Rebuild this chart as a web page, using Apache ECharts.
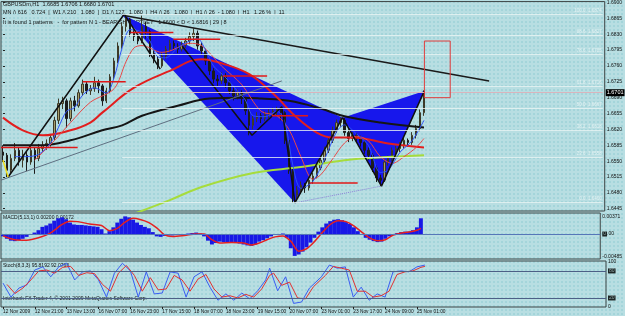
<!DOCTYPE html>
<html>
<head>
<meta charset="utf-8">
<script src="https://cdn.jsdelivr.net/npm/echarts@6.0.0/dist/echarts.min.js"></script>
<style>
  html, body { margin: 0; padding: 0; }
  body {
    background-color: #b8dee2;
    background-image: radial-gradient(circle, #8ccad1 0.6px, transparent 0.8px);
    background-size: 4px 4px;
  }
  #chart { width: 625px; height: 316px; }
</style>
</head>
<body>
<div id="chart"></div>
<script>
// 2-hour slots along the time axis (bars end at slot 106, the rest is empty space)
var nSlots = 152;
var slots = [];
for (var i = 0; i < nSlots; i++) slots.push(i);

var timeLabels = ['12 Nov 2009', '12 Nov 21:00', '13 Nov 13:00', '16 Nov 07:00', '16 Nov 23:00',
  '17 Nov 15:00', '18 Nov 07:00', '18 Nov 23:00', '19 Nov 15:00', '20 Nov 07:00',
  '23 Nov 01:00', '23 Nov 17:00', '24 Nov 09:00', '25 Nov 01:00'];
var priceTicks = [1.6445, 1.6480, 1.6515, 1.6550, 1.6585, 1.6620, 1.6655, 1.6690,
  1.6725, 1.6760, 1.6795, 1.6830, 1.6865, 1.6900];

// [open, close, low, high]
var candles = [
  [1.6570,1.6563,1.6548,1.6585],[1.6563,1.6530,1.6515,1.6568],[1.6530,1.6556,1.6524,1.6565],[1.6556,1.6574,1.6550,1.6590],
  [1.6574,1.6552,1.6540,1.6580],[1.6552,1.6563,1.6536,1.6575],[1.6563,1.6548,1.6528,1.6570],[1.6548,1.6574,1.6542,1.6582],
  [1.6574,1.6556,1.6522,1.6580],[1.6556,1.6578,1.6550,1.6588],[1.6578,1.6585,1.6570,1.6594],[1.6585,1.6589,1.6575,1.6598],
  [1.6589,1.6602,1.6582,1.6610],[1.6602,1.6640,1.6596,1.6648],[1.6640,1.6677,1.6632,1.6688],[1.6677,1.6683,1.6665,1.6692],
  [1.6683,1.6644,1.6624,1.6688],[1.6644,1.6683,1.6638,1.6690],[1.6683,1.6672,1.6660,1.6694],[1.6672,1.6701,1.6668,1.6708],
  [1.6701,1.6720,1.6694,1.6730],[1.6720,1.6705,1.6698,1.6725],[1.6705,1.6710,1.6696,1.6718],[1.6710,1.6723,1.6703,1.6736],
  [1.6723,1.6716,1.6700,1.6730],[1.6716,1.6683,1.6672,1.6720],[1.6683,1.6705,1.6678,1.6712],[1.6705,1.6736,1.6700,1.6742],
  [1.6736,1.6771,1.6730,1.6778],[1.6771,1.6804,1.6766,1.6812],[1.6804,1.6847,1.6798,1.6856],[1.6847,1.6863,1.6836,1.6874],
  [1.6863,1.6832,1.6825,1.6866],[1.6832,1.6825,1.6815,1.6840],[1.6825,1.6815,1.6808,1.6830],[1.6815,1.6847,1.6810,1.6871],
  [1.6847,1.6836,1.6820,1.6858],[1.6836,1.6788,1.6780,1.6840],[1.6788,1.6775,1.6766,1.6795],[1.6775,1.6760,1.6753,1.6782],
  [1.6760,1.6782,1.6756,1.6790],[1.6782,1.6797,1.6775,1.6804],[1.6797,1.6810,1.6790,1.6818],[1.6810,1.6804,1.6795,1.6816],
  [1.6804,1.6797,1.6788,1.6810],[1.6797,1.6806,1.6792,1.6814],[1.6806,1.6815,1.6800,1.6822],[1.6815,1.6825,1.6808,1.6834],
  [1.6825,1.6832,1.6815,1.6843],[1.6832,1.6804,1.6796,1.6838],[1.6804,1.6793,1.6784,1.6812],[1.6793,1.6771,1.6762,1.6798],
  [1.6771,1.6749,1.6740,1.6776],[1.6749,1.6731,1.6722,1.6755],[1.6731,1.6727,1.6716,1.6740],[1.6727,1.6738,1.6720,1.6746],
  [1.6738,1.6723,1.6712,1.6744],[1.6723,1.6705,1.6698,1.6728],[1.6705,1.6694,1.6684,1.6712],[1.6694,1.6701,1.6686,1.6708],
  [1.6701,1.6688,1.6676,1.6706],[1.6688,1.6661,1.6652,1.6692],[1.6661,1.6629,1.6607,1.6666],[1.6629,1.6644,1.6620,1.6650],
  [1.6644,1.6650,1.6636,1.6658],[1.6650,1.6644,1.6634,1.6656],[1.6644,1.6653,1.6638,1.6660],[1.6653,1.6657,1.6645,1.6664],
  [1.6657,1.6661,1.6650,1.6668],[1.6661,1.6666,1.6652,1.6670],[1.6666,1.6657,1.6640,1.6668],[1.6657,1.6596,1.6588,1.6660],
  [1.6596,1.6530,1.6522,1.6600],[1.6530,1.6475,1.6458,1.6536],[1.6475,1.6486,1.6465,1.6495],[1.6486,1.6497,1.6478,1.6505],
  [1.6497,1.6491,1.6480,1.6502],[1.6491,1.6508,1.6485,1.6515],[1.6508,1.6517,1.6500,1.6524],[1.6517,1.6535,1.6512,1.6542],
  [1.6535,1.6552,1.6530,1.6560],[1.6552,1.6574,1.6546,1.6582],[1.6574,1.6596,1.6568,1.6604],[1.6596,1.6618,1.6590,1.6626],
  [1.6618,1.6635,1.6612,1.6642],[1.6635,1.6640,1.6626,1.6646],[1.6640,1.6613,1.6606,1.6645],[1.6613,1.6600,1.6592,1.6620],
  [1.6600,1.6607,1.6594,1.6614],[1.6607,1.6600,1.6590,1.6612],[1.6600,1.6591,1.6582,1.6606],[1.6591,1.6574,1.6566,1.6596],
  [1.6574,1.6563,1.6552,1.6580],[1.6563,1.6535,1.6526,1.6568],[1.6535,1.6513,1.6504,1.6540],[1.6513,1.6508,1.6495,1.6520],
  [1.6508,1.6548,1.6504,1.6554],[1.6548,1.6556,1.6540,1.6562],[1.6556,1.6574,1.6550,1.6580],[1.6574,1.6578,1.6566,1.6584],
  [1.6578,1.6585,1.6570,1.6592],[1.6585,1.6596,1.6578,1.6602],[1.6596,1.6591,1.6582,1.6600],[1.6591,1.6607,1.6586,1.6614],
  [1.6607,1.6622,1.6600,1.6630],[1.6622,1.6657,1.6616,1.6664],[1.6657,1.6701,1.6650,1.6706]
];

// moving averages, read at a few slots: [slot, price]
var maBlack = [[0,1.6585],[10,1.6585],[17,1.6596],[25,1.6618],[30,1.6629],[35,1.6650],[44,1.6672],[52,1.6688],
  [60,1.6690],[65,1.6688],[72,1.6683],[80,1.6666],[86,1.6649],[95,1.6635],[106,1.6624]];
var maRed = [[0,1.6646],[5,1.6618],[10,1.6607],[17,1.6618],[22,1.6635],[25,1.6657],[33,1.6712],[42,1.6749],
  [50,1.6775],[55,1.6766],[62,1.6742],[68,1.6699],[74,1.6646],[79,1.6613],[83,1.6602],[88,1.6602],[97,1.6589],[106,1.6580]];
var maGreen = [[33,1.6434],[42,1.6464],[50,1.6493],[63,1.6524],[75,1.6537],[86,1.6552],[97,1.6559],[106,1.6563]];
var maPink = [[8,1.6552],[13,1.6596],[17,1.6635],[22,1.6680],[28,1.6710],[31,1.6770],[33,1.6800],[35,1.6805],
  [40,1.6790],[42,1.6793],[47,1.6810],[50,1.6805],[55,1.6760],[60,1.6720],[65,1.6660],[69,1.6650],[72,1.6620],
  [75,1.6560],[78,1.6510],[80,1.6520],[83,1.6555],[86,1.6590],[89,1.6605],[92,1.6595],[95,1.6560],[98,1.6545],
  [101,1.6560],[104,1.6580],[106,1.6600]];
var maBlue = [[3,1.6560],[6,1.6560],[9,1.6565],[12,1.6590],[14,1.6625],[16,1.6660],[18,1.6668],[20,1.6695],
  [23,1.6712],[26,1.6700],[28,1.6735],[30,1.6800],[32,1.6840],[35,1.6835],[37,1.6815],[39,1.6780],[41,1.6778],
  [44,1.6800],[47,1.6815],[49,1.6820],[51,1.6795],[53,1.6760],[56,1.6735],[59,1.6705],[61,1.6685],[63,1.6650],
  [66,1.6648],[69,1.6660],[71,1.6635],[73,1.6540],[75,1.6490],[78,1.6505],[81,1.6555],[84,1.6615],[86,1.6630],
  [89,1.6610],[92,1.6585],[95,1.6525],[97,1.6530],[100,1.6570],[103,1.6595],[106,1.6640]];

// harmonic pattern points [slot, price]
var ptX = [29.8, 1.6874];
var ptA = [73.5, 1.6458];
var ptB = [85.5, 1.6646];
var ptC = [95.3, 1.6495];
var ptD = [106.1, 1.6705];

var zigzag1 = [[1.3,1.6515],[30.5,1.6874],[39.6,1.6753]];
var zigzag2 = [[45.1,1.6804],[62.7,1.6607],[70.2,1.6670],[73.5,1.6458],[85.5,1.6646],[95.3,1.6495],[106.1,1.6705]];
var downTrend = [[30.8,1.6871],[122.4,1.6727]];
var upTrend = [[-0.5,1.6508],[70.2,1.6727]];
var dottedAC = [[73.5,1.6458],[95.3,1.6495]];
var yellowLeg = [[0,1.6552],[1.3,1.6515]];
// [from slot, to slot, price]
var redLevels = [[-0.5,18.8,1.6580],[20.1,30.9,1.6725],[32.1,42.9,1.6834],[42.9,54.7,1.6819],
  [55.4,66.5,1.6738],[67.7,76.8,1.6650],[77.3,89.3,1.6502]];
var redBox = [106.1, 1.6815, 112.6, 1.6690];

var fibNames = ['100.0', '88.6', '78.6', '61.8', '50.0', '38.2', '23.6', '0.0'];
var fibPrices = [1.6874, 1.6827, 1.6785, 1.6716, 1.6667, 1.6618, 1.6558, 1.6460];
var lastPrice = 1.6701;

var macd = [-0.0005,-0.0010,-0.0014,-0.0015,-0.0013,-0.0010,-0.0006,-0.0002,0.0003,0.0008,0.0015,0.0018,
  0.0022,0.0028,0.0033,0.0035,0.0031,0.0024,0.0020,0.0019,0.0019,0.0018,0.0017,0.0016,0.0015,0.0010,0.0001,
  0.0006,0.0014,0.0024,0.0032,0.0037,0.0035,0.0030,0.0024,0.0019,0.0015,0.0012,0.0004,-0.0005,-0.0006,-0.0004,
  -0.0003,-0.0003,-0.0002,-0.0002,-0.0001,0.0001,0.0002,0.0003,0.0001,-0.0005,-0.0014,-0.0022,-0.0019,-0.0016,
  -0.0017,-0.0018,-0.0017,-0.0019,-0.0020,-0.0022,-0.0024,-0.0025,-0.0022,-0.0016,-0.0013,-0.0009,-0.0005,
  -0.0002,0.0000,0.0001,-0.0008,-0.0030,-0.0046,-0.0043,-0.0037,-0.0028,-0.0018,-0.0008,0.0005,0.0014,0.0022,
  0.0027,0.0030,0.0031,0.0029,0.0025,0.0021,0.0014,0.0006,-0.0002,-0.0008,-0.0012,-0.0015,-0.0017,-0.0016,
  -0.0010,-0.0005,0.0000,0.0002,0.0004,0.0005,0.0005,0.0008,0.0014,0.0033];
var macdSignal = [[0,-0.0004],[3,-0.0012],[6,-0.0013],[9,-0.0008],[12,0.0002],[15,0.0020],[17,0.0027],[19,0.0026],
  [22,0.0021],[25,0.0018],[27,0.0007],[29,0.0012],[31,0.0025],[33,0.0033],[35,0.0030],[37,0.0024],[39,0.0013],
  [41,-0.0002],[43,-0.0005],[46,-0.0003],[49,0.0000],[51,0.0000],[53,-0.0012],[55,-0.0019],[58,-0.0018],
  [61,-0.0019],[63,-0.0023],[65,-0.0019],[67,-0.0012],[69,-0.0006],[71,-0.0004],[73,-0.0015],[75,-0.0036],
  [77,-0.0031],[79,-0.0016],[81,0.0003],[83,0.0020],[85,0.0028],[87,0.0026],[89,0.0017],[91,0.0004],[93,-0.0008],
  [95,-0.0014],[97,-0.0012],[99,-0.0002],[101,0.0002],[103,0.0004],[105,0.0008],[106,0.0012]];
var macdTicks = [-0.00485, 0, 0.00371];

var stochK = [[0,53],[2,22],[4,42],[6,49],[8,82],[10,89],[12,67],[14,89],[16,97],[18,60],[20,78],[22,80],[24,60],
  [26,22],[28,75],[30,97],[32,80],[34,22],[36,78],[38,29],[40,31],[42,78],[44,75],[46,22],[48,67],[50,78],[52,44],
  [54,15],[56,29],[58,15],[60,31],[62,18],[64,36],[66,60],[67,86],[69,36],[71,67],[73,8],[75,11],[77,42],[80,67],
  [82,93],[84,86],[86,89],[88,22],[90,44],[92,15],[94,29],[96,22],[98,78],[100,80],[102,78],[104,89],[106,93]];
var stochD = [[1,50],[3,30],[5,42],[7,60],[9,80],[11,82],[13,75],[15,88],[17,90],[19,70],[21,76],[23,74],[25,50],
  [27,35],[29,75],[31,92],[33,70],[35,35],[37,65],[39,38],[41,40],[43,70],[45,60],[47,35],[49,62],[51,72],[53,40],
  [55,22],[57,25],[59,20],[61,28],[63,22],[65,40],[67,70],[68,75],[70,48],[72,55],[74,20],[76,18],[78,45],[81,70],
  [83,90],[85,86],[87,82],[89,35],[91,35],[93,22],[95,25],[97,35],[99,72],[101,78],[103,80],[105,88],[106,90]];
var stochTicks = [0, 20, 80, 100];

var FONT = 'Liberation Sans';

function lineSeries(data, color, width, extra) {
  var s = {
    type: 'line', xAxisIndex: 1, yAxisIndex: 0, data: data, symbol: 'none',
    lineStyle: { color: color, width: width }, silent: true, z: 4
  };
  for (var k in extra) s[k] = extra[k];
  return s;
}

var series = [];

// blue XAB and BCD triangles
series.push({
  type: 'custom', xAxisIndex: 1, yAxisIndex: 0, z: 1, silent: true,
  data: [[ptX[0], ptX[1], ptA[0], ptA[1], ptB[0], ptB[1]], [ptB[0], ptB[1], ptC[0], ptC[1], ptD[0], ptD[1]]],
  encode: { x: [0, 2, 4], y: [1, 3, 5] },
  renderItem: function (params, api) {
    var pts = [0, 1, 2].map(function (k) { return api.coord([api.value(2 * k), api.value(2 * k + 1)]); });
    return { type: 'polygon', shape: { points: pts }, style: { fill: '#1717ec' } };
  }
});

// price candles, fibo levels and last price line
var fibLines = fibPrices.map(function (p, k) {
  return [{ coord: [30, p], label: { formatter: fibNames[k] + '  ' + p.toFixed(4) } }, { coord: [151, p] }];
});
series.push({
  type: 'candlestick', xAxisIndex: 0, yAxisIndex: 0, data: candles, z: 3, silent: true,
  barMaxWidth: 3,
  itemStyle: { color: '#a69e6c', color0: '#1c1c1c', borderColor: '#3d3a28', borderColor0: '#1c1c1c', borderWidth: 1 },
  markLine: {
    symbol: 'none', silent: true, animation: false,
    lineStyle: { color: '#e8f4f4', width: 1, type: 'solid', opacity: 0.8 },
    label: { position: 'insideEndTop', distance: 1, color: '#eef8f8', fontSize: 4.5, fontFamily: FONT },
    data: fibLines.concat([[
      { coord: [30, lastPrice], lineStyle: { color: '#d9b4bc', opacity: 1 },
        label: { position: 'end', distance: 3, formatter: lastPrice.toFixed(4), color: '#fff',
          backgroundColor: '#000', padding: [1, 1, 0, 1], fontSize: 5.5 } },
      { coord: [151, lastPrice] }
    ]])
  }
});

series.push(lineSeries(maGreen, '#a6dc3c', 2, { smooth: 0.4 }));
series.push(lineSeries(maBlack, '#151515', 2, { smooth: 0.4 }));
series.push(lineSeries(maRed, '#e21e1e', 2, { smooth: 0.4 }));
series.push(lineSeries(maPink, '#e84848', 1, { smooth: 0.3 }));
series.push(lineSeries(maBlue, '#2f52f5', 1, { smooth: 0.3 }));
series.push(lineSeries(upTrend, '#5f6f80', 1));
series.push(lineSeries(downTrend, '#1a1a1a', 1.5));
series.push(lineSeries(zigzag1, '#111', 1.5));
series.push(lineSeries(zigzag2, '#111', 1.5));
series.push(lineSeries(dottedAC, '#8c7fd6', 1, { lineStyle: { color: '#8c7fd6', width: 1, type: 'dotted' } }));
series.push(lineSeries(yellowLeg, '#f0e020', 1.5));
redLevels.forEach(function (r) {
  series.push(lineSeries([[r[0], r[2]], [r[1], r[2]]], '#e01818', 1.5));
});

// red target box
series.push({
  type: 'custom', xAxisIndex: 1, yAxisIndex: 0, z: 5, silent: true,
  data: [redBox], encode: { x: [0, 2], y: [1, 3] },
  renderItem: function (params, api) {
    var a = api.coord([api.value(0), api.value(1)]);
    var b = api.coord([api.value(2), api.value(3)]);
    return { type: 'rect', shape: { x: a[0], y: a[1], width: b[0] - a[0], height: b[1] - a[1] },
      style: { fill: 'none', stroke: '#e03a3a', lineWidth: 1 } };
  }
});

// MACD
series.push({
  type: 'bar', xAxisIndex: 2, yAxisIndex: 1, data: macd, barCategoryGap: '0%', silent: true,
  itemStyle: { color: '#1818e6' },
  markLine: { symbol: 'none', silent: true, animation: false, label: { show: false },
    lineStyle: { color: '#5676b8', width: 1, type: 'solid' }, data: [{ yAxis: 0 }] }
});
series.push({
  type: 'line', xAxisIndex: 3, yAxisIndex: 1, data: macdSignal, symbol: 'none', smooth: 0.3, silent: true,
  lineStyle: { color: '#e52020', width: 1.5 }
});

// Stochastic
series.push({
  type: 'line', xAxisIndex: 5, yAxisIndex: 2, data: stochK, symbol: 'none', silent: true,
  lineStyle: { color: '#3a5cf2', width: 1 },
  markLine: { symbol: 'none', silent: true, animation: false, label: { show: false },
    lineStyle: { color: '#4c5f86', width: 1, type: 'solid' }, data: [{ yAxis: 80 }, { yAxis: 20 }] }
});
series.push({
  type: 'line', xAxisIndex: 5, yAxisIndex: 2, data: stochD, symbol: 'none', silent: true,
  lineStyle: { color: '#e23030', width: 1 }
});

var gridBorder = { show: true, borderColor: '#3c4444', borderWidth: 1, backgroundColor: 'transparent' };
var axisText = { fontSize: 5, color: '#111', fontFamily: FONT };

function catAxis(grid, showLabels) {
  return {
    type: 'category', gridIndex: grid, data: slots, boundaryGap: true,
    axisLine: { show: false }, splitLine: { show: false },
    axisTick: showLabels ? { show: true, length: 2, alignWithLabel: true, lineStyle: { color: '#222' },
      interval: function (idx) { return idx % 8 === 0 && idx / 8 < timeLabels.length; } } : { show: false },
    axisLabel: showLabels ? {
      show: true, interval: 0, margin: 2, align: 'left', fontSize: 4.8, color: '#111', fontFamily: FONT,
      formatter: function (v, idx) { return idx % 8 === 0 && timeLabels[idx / 8] ? timeLabels[idx / 8] : ''; }
    } : { show: false }
  };
}
function valAxis(grid) {
  return { type: 'value', gridIndex: grid, min: -0.5, max: nSlots - 0.5, show: false };
}

var option = {
  animation: false,
  backgroundColor: 'transparent',
  textStyle: { fontFamily: FONT },
  grid: [
    Object.assign({ left: 1, right: 19, top: 0, height: 211 }, gridBorder),
    Object.assign({ left: 1, right: 19, top: 213, height: 46 }, gridBorder),
    Object.assign({ left: 1, right: 19, top: 261, height: 46 }, gridBorder)
  ],
  xAxis: [catAxis(0, false), valAxis(0), catAxis(1, false), valAxis(1), catAxis(2, true), valAxis(2)],
  yAxis: [
    { type: 'value', gridIndex: 0, position: 'right', min: 1.6440, max: 1.6902, scale: true,
      splitLine: { show: false }, axisLine: { show: false },
      axisTick: { show: true, length: 2, customValues: priceTicks, lineStyle: { color: '#222' } },
      axisLabel: Object.assign({ margin: 2, customValues: priceTicks,
        formatter: function (v) { return v.toFixed(4); } }, axisText) },
    { type: 'value', gridIndex: 1, position: 'right', min: -0.00525, max: 0.00441, scale: true,
      splitLine: { show: false }, axisLine: { show: false }, axisTick: { show: false },
      axisLabel: Object.assign({ margin: 2, customValues: macdTicks,
        formatter: function (v) { return v === 0 ? '{b|0}.00' : v.toFixed(5); },
        rich: { b: { backgroundColor: '#1d2626', color: '#90a8a8', fontSize: 5, padding: [0, 1] } } }, axisText) },
    { type: 'value', gridIndex: 2, position: 'right', min: 0, max: 102,
      splitLine: { show: false }, axisLine: { show: false }, axisTick: { show: false },
      axisLabel: Object.assign({ margin: 2, customValues: stochTicks,
        formatter: function (v) { return (v === 80 || v === 20) ? '{b|' + v + '}' : String(v); },
        rich: { b: { backgroundColor: '#1d2626', color: '#90a8a8', fontSize: 5, padding: [0, 1] } } }, axisText) }
  ],
  graphic: [
    { type: 'text', left: 3, top: 1, z: 0, style: { text: 'GBPUSDm,H1  1.6685 1.6706 1.6680 1.6701', fontSize: 5.5, fill: '#111', fontFamily: FONT } },
    { type: 'text', left: 3, top: 9, z: 0, style: { text: 'MN /\\ 616   0.724  |  W1 /\\ 210   1.080  |  D1 /\\ 127   1.080  |  H4 /\\ 26   1.080  |  H1 /\\ 26  - 1.080  |  H1   1.26 %  |  11', fontSize: 5.5, fill: '#111', fontFamily: FONT } },
    { type: 'text', left: 3, top: 19, z: 0, style: { text: 'It is found 1 patterns   -  for pattern N 1 - BEARISH GARTLEY   1.6600 < D < 1.6816 | 29 | 8', fontSize: 5.5, fill: '#111', fontFamily: FONT } },
    { type: 'text', left: 3, top: 215, z: 0, style: { text: 'MACD(5,13,1) 0.00200 0.00172', fontSize: 5, fill: '#111', fontFamily: FONT } },
    { type: 'text', left: 3, top: 263, z: 0, style: { text: 'Stoch(8,3,3) 95.8192 92.0766', fontSize: 5, fill: '#111', fontFamily: FONT } },
    { type: 'text', left: 3, top: 296, z: 0, style: { text: 'Interbank FX Trader 4, \u00a9 2001-2009 MetaQuotes Software Corp.', fontSize: 5, fill: '#111', fontFamily: FONT } }
  ],
  series: series
};

var myChart = echarts.init(document.getElementById('chart'));
myChart.setOption(option);
</script>
</body>
</html>
